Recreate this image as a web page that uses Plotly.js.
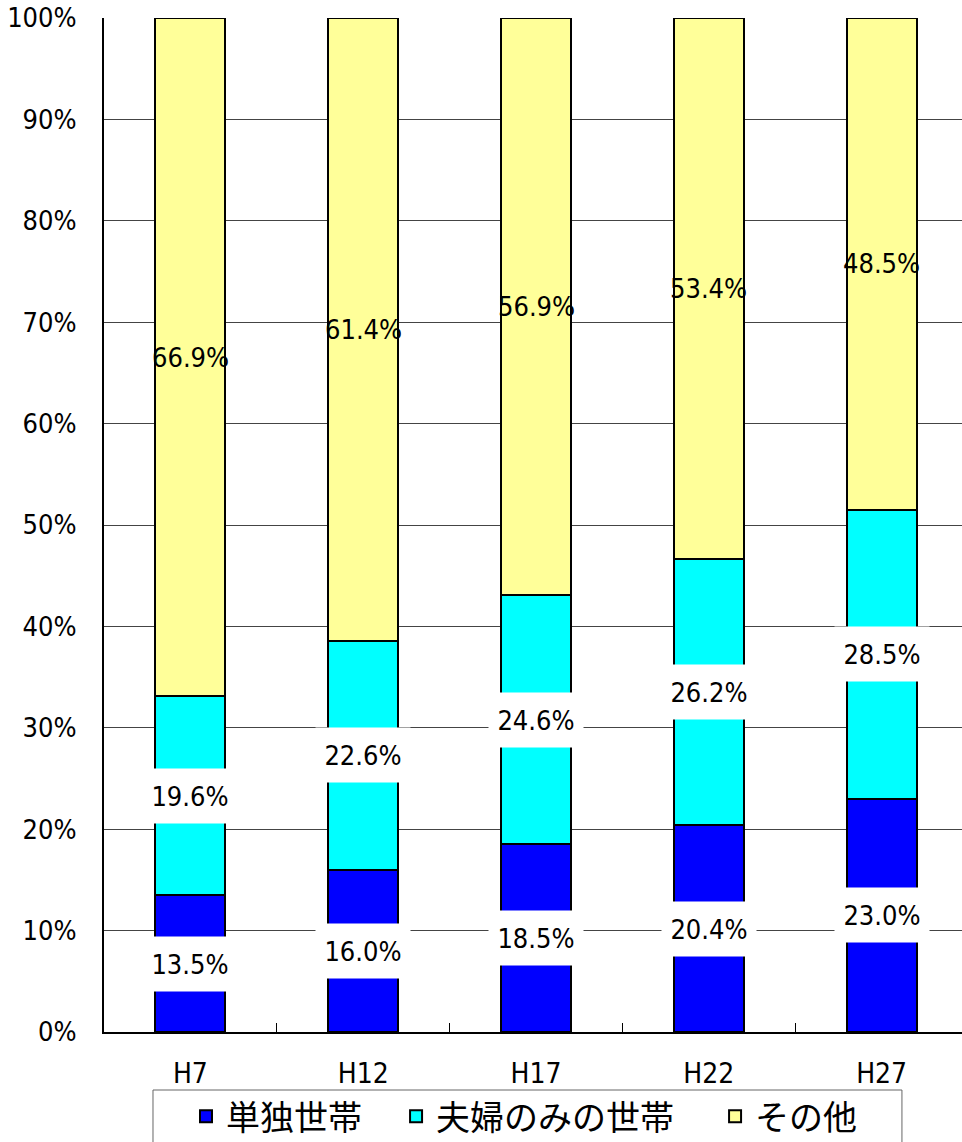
<!DOCTYPE html>
<html>
<head>
<meta charset="utf-8">
<script src="https://cdn.plot.ly/plotly-3.0.1.min.js"></script>
<style>html,body{margin:0;padding:0;background:#fff;}#chart{width:962px;height:1142px;}</style>
</head>
<body>
<div id="chart"></div>
<script>
var categories = ['H7', 'H12', 'H17', 'H22', 'H27'];
var seriesNames = ['単独世帯', '夫婦のみの世帯', 'その他'];
var single = [13.5, 16.0, 18.5, 20.4, 23.0];
var couple = [19.6, 22.6, 24.6, 26.2, 28.5];
var other = [66.9, 61.4, 56.9, 53.4, 48.5];
var yTicks = [0, 10, 20, 30, 40, 50, 60, 70, 80, 90, 100];

var colors = ['#0000FF', '#00FFFF', '#FFFF99'];
var NUMFONT = '"DejaVu Sans Condensed", "Liberation Sans Narrow", sans-serif';
var CJKFONT = '"Noto Sans CJK JP", sans-serif';
var legendIds = ['legend', 'legend2', 'legend3'];

var seriesData = [single, couple, other];
var traces = seriesData.map(function (vals, i) {
  return {
    type: 'bar',
    name: seriesNames[i],
    legend: legendIds[i],
    x: categories,
    y: vals,
    marker: { color: colors[i], line: { color: '#000', width: 2 } },
    hoverinfo: 'none'
  };
});

var annotations = [];
categories.forEach(function (c, j) {
  var base = 0;
  seriesData.forEach(function (vals, i) {
    var mid = base + vals[j] / 2;
    base += vals[j];
    var a = {
      x: c, y: mid, xref: 'x', yref: 'y',
      text: vals[j].toFixed(1) + '%',
      showarrow: false,
      font: { family: NUMFONT, size: 27, color: '#000' }
    };
    if (i < 2) {
      a.bgcolor = '#FFFFFF';
      a.width = 92;
      a.height = 52;
    }
    annotations.push(a);
  });
});

function legendAt(x) {
  return {
    orientation: 'h', x: x, xanchor: 'left', xref: 'paper',
    y: 0.0222, yanchor: 'middle', yref: 'container',
    borderwidth: 0, bgcolor: 'rgba(0,0,0,0)',
    font: { family: CJKFONT, size: 34, color: '#000' }
  };
}

var layout = {
  width: 962, height: 1142,
  margin: { l: 104, r: 0, t: 18, b: 110 },
  paper_bgcolor: '#fff', plot_bgcolor: '#fff',
  barmode: 'stack',
  bargap: 0.595,
  showlegend: true,
  legend: legendAt(0.0956),
  legend2: legendAt(0.3404),
  legend3: legendAt(0.7122),
  shapes: [{
    type: 'rect', xref: 'paper', yref: 'paper',
    x0: 0.0571, x1: 0.930, y0: -0.0572, y1: -0.1164,
    line: { color: '#666', width: 1 }, fillcolor: 'rgba(0,0,0,0)', layer: 'below'
  }],
  xaxis: {
    type: 'category',
    range: [-0.5, 4.465],
    tickson: 'boundaries',
    ticks: 'inside', ticklen: 9, tickcolor: '#000', tickwidth: 1,
    showline: true, linecolor: '#000', linewidth: 2,
    showgrid: false,
    tickfont: { family: NUMFONT, size: 28, color: '#000' },
    ticklabelstandoff: 15
  },
  yaxis: {
    range: [0, 100],
    tickvals: yTicks,
    ticktext: yTicks.map(function (v) { return v + '%'; }),
    showline: true, linecolor: '#000', linewidth: 2,
    showgrid: true, gridcolor: '#444', gridwidth: 1,
    zeroline: false,
    ticks: '',
    tickfont: { family: NUMFONT, size: 27, color: '#000' },
    ticklabelstandoff: 20
  },
  annotations: annotations
};

Plotly.newPlot('chart', traces, layout, { staticPlot: true, displayModeBar: false });
</script>
</body>
</html>
